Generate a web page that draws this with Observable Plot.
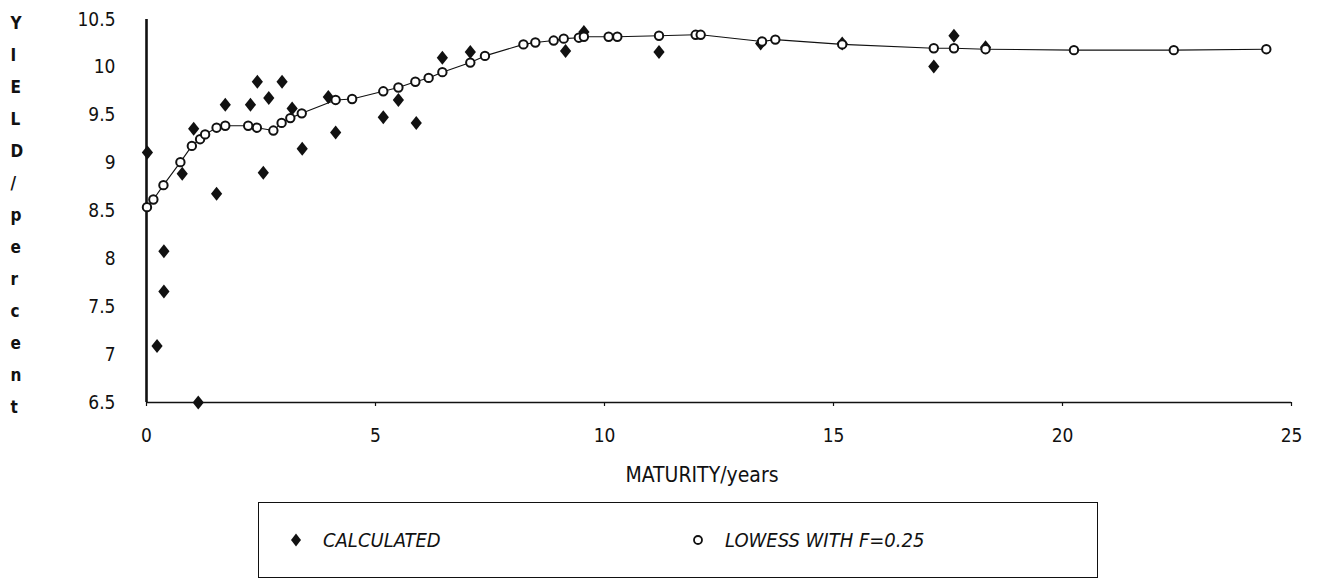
<!DOCTYPE html>
<html>
<head>
<meta charset="utf-8">
<script src="https://cdn.jsdelivr.net/npm/d3@7"></script>
<script src="https://cdn.jsdelivr.net/npm/@observablehq/plot@0.6"></script>
<style>
  html, body { margin: 0; padding: 0; background: #fff; }
  #wrap { position: relative; width: 1322px; height: 582px; overflow: hidden; }
  #legend {
    position: absolute; left: 258px; top: 502px; width: 838px; height: 74px;
    border: 1.5px solid #111; box-sizing: content-box;
    font-family: "Liberation Sans Narrow", "DejaVu Sans Condensed", "Liberation Sans", sans-serif;
    font-style: italic; font-size: 20px; color: #111;
  }
  .item { position: absolute; top: 0; height: 74px; display: flex; align-items: center; }
  .item svg { margin-right: 20px; }
</style>
</head>
<body>
<div id="wrap">
  <div id="chart"></div>
  <div id="legend">
    <div class="item" style="left:30px"><svg width="14" height="16" id="legDiamond"></svg><span>CALCULATED</span></div>
    <div class="item" style="left:432px"><svg width="14" height="16" id="legCircle"></svg><span>LOWESS WITH F=0.25</span></div>
  </div>
</div>
<script>
// Calculated yields (diamonds)
const calcMaturity = [0.02, 0.23, 0.38, 0.38, 0.78, 1.03, 1.13, 1.53, 1.72, 2.27, 2.42, 2.55, 2.67, 2.96, 3.18, 3.40, 3.97, 4.13, 5.17, 5.50, 5.89, 6.46, 7.07, 9.15, 9.55, 11.19, 13.41, 15.19, 17.19, 17.63, 18.32];
const calcYield    = [9.11, 7.09, 8.08, 7.66, 8.89, 9.36, 6.50, 8.68, 9.61, 9.61, 9.85, 8.90, 9.68, 9.85, 9.57, 9.15, 9.69, 9.32, 9.48, 9.66, 9.42, 10.10, 10.16, 10.17, 10.37, 10.16, 10.25, 10.25, 10.01, 10.33, 10.21];

// LOWESS fit with F = 0.25 (open circles joined by a line)
const lowessMaturity = [0.01, 0.15, 0.37, 0.74, 0.99, 1.17, 1.28, 1.53, 1.72, 2.22, 2.41, 2.77, 2.95, 3.14, 3.39, 4.13, 4.49, 5.17, 5.50, 5.87, 6.16, 6.46, 7.07, 7.39, 8.23, 8.49, 8.89, 9.11, 9.44, 9.55, 10.09, 10.28, 11.19, 11.99, 12.10, 13.44, 13.73, 15.19, 17.19, 17.63, 18.32, 20.25, 22.43, 24.45];
const lowessYield    = [8.54, 8.62, 8.77, 9.01, 9.18, 9.25, 9.30, 9.37, 9.39, 9.39, 9.37, 9.34, 9.42, 9.47, 9.52, 9.66, 9.67, 9.75, 9.79, 9.85, 9.89, 9.95, 10.05, 10.12, 10.24, 10.26, 10.28, 10.30, 10.31, 10.32, 10.32, 10.32, 10.33, 10.34, 10.34, 10.27, 10.29, 10.24, 10.20, 10.20, 10.19, 10.18, 10.18, 10.19];

// Axis ticks
const xTicks = [0, 5, 10, 15, 20, 25];
const yTicks = [6.5, 7, 7.5, 8, 8.5, 9, 9.5, 10, 10.5];
const yTickLabels = ["6.5", "7", "7.5", "8", "8.5", "9", "9.5", "10", "10.5"];
const xTitle = "MATURITY/years";
const yTitle = "YIELD/percent";

const calc = calcMaturity.map((m, i) => ({maturity: m, yield: calcYield[i]}));
const lowess = lowessMaturity.map((m, i) => ({maturity: m, yield: lowessYield[i]}));

// taller-than-wide filled diamond
const diamond = {
  draw(ctx, size) {
    const h = Math.sqrt(size / 1.6), w = 0.8 * h;
    ctx.moveTo(0, -h); ctx.lineTo(w, 0); ctx.lineTo(0, h); ctx.lineTo(-w, 0); ctx.closePath();
  }
};

const font = '"Liberation Sans Narrow", "DejaVu Sans Condensed", "Liberation Sans", sans-serif';

const chart = Plot.plot({
  width: 1322,
  height: 500,
  marginLeft: 146,
  marginRight: 31,
  marginTop: 19,
  marginBottom: 98,
  style: {fontFamily: font, fontSize: "19px", color: "#111", background: "#fff"},
  x: {domain: [0, 25]},
  y: {domain: [6.5, 10.5]},
  marks: [
    Plot.axisX(xTicks, {tickSize: 4, tickPadding: 22, fontSize: 19, label: null, strokeWidth: 1.2}),
    Plot.axisY(yTicks, {tickSize: 0, tickPadding: 31, fontSize: 19, label: null, tickFormat: d => yTickLabels[yTicks.indexOf(d)]}),
    Plot.ruleY([6.5], {stroke: "#111", strokeWidth: 1.3}),
    Plot.ruleX([0], {stroke: "#111", strokeWidth: 2.6}),
    Plot.text([xTitle], {frameAnchor: "bottom", dx: -17, dy: 73, lineAnchor: "middle", fontSize: 21, fill: "#111"}),
    Plot.text([yTitle.split("").join("\n")], {frameAnchor: "left", dx: -136, lineAnchor: "middle", lineHeight: 1.88, fontSize: 17, fontWeight: "bold", fill: "#111"}),
    Plot.dot(calc, {x: "maturity", y: "yield", symbol: diamond, r: 5, fill: "#111", stroke: "none"}),
    Plot.line(lowess, {x: "maturity", y: "yield", stroke: "#111", strokeWidth: 1.1}),
    Plot.dot(lowess, {x: "maturity", y: "yield", r: 4.2, fill: "#fff", stroke: "#111", strokeWidth: 2})
  ]
});
document.getElementById("chart").appendChild(chart);

// legend symbols
d3.select("#legDiamond").append("path")
  .attr("transform", "translate(7,8)")
  .attr("d", "M0,-6.5L5,0L0,6.5L-5,0Z").attr("fill", "#111");
d3.select("#legCircle").append("circle")
  .attr("cx", 7).attr("cy", 8).attr("r", 4).attr("fill", "#fff").attr("stroke", "#111").attr("stroke-width", 1.8);
</script>
</body>
</html>
